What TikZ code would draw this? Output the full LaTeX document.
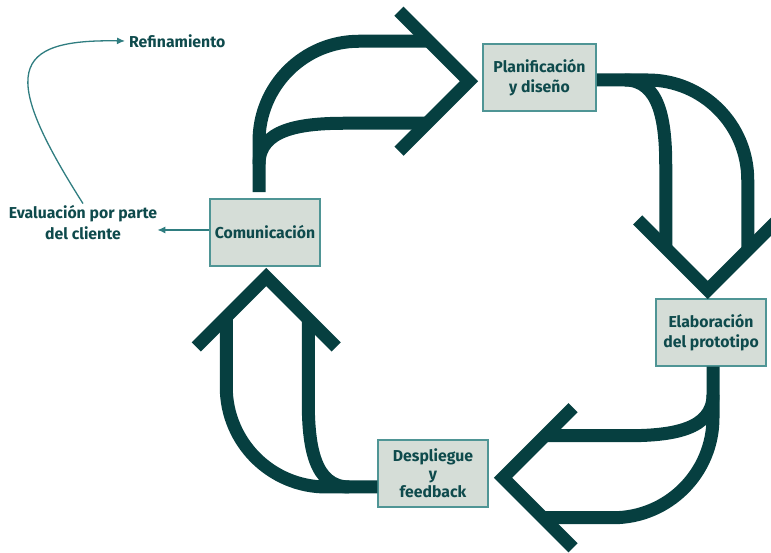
\documentclass[tikz,border=0pt]{standalone}
\usepackage{fontspec}
\setmainfont{Fira Sans}
\usetikzlibrary{arrows.meta}

\definecolor{arrowdark}{HTML}{063F40}
\definecolor{boxfill}{HTML}{D5DDD7}
\definecolor{boxline}{HTML}{4F9595}
\definecolor{labeltext}{HTML}{0E4A4C}
\definecolor{thinline}{HTML}{2F7D80}

\tikzset{
  stage/.style={draw=boxline, line width=1.5pt, fill=boxfill, text=labeltext,
    minimum width=110pt, minimum height=67pt, align=center, inner sep=2pt,
    font=\fontsize{15.8}{20.5}\selectfont\bfseries},
  freelabel/.style={text=labeltext, align=center, inner sep=0pt,
    font=\fontsize{15.8}{21}\selectfont\bfseries},
  bigstroke/.style={draw=arrowdark, line width=13pt, line cap=butt},
  thinarrow/.style={draw=thinline, line width=1.3pt,
    -{Latex[length=8pt,width=7pt]}},
  % broad double-shafted arrow with an open chevron head,
  % drawn with its base at the origin and its head up and to the right
  cyclearrow/.pic={
    \draw[bigstroke] (0,0) -- (0,51)
      arc[start angle=180, end angle=90, radius=100pt] -- (172,151);
    \draw[bigstroke] (0,28) .. controls (0,63) and (41,69) .. (86,69) -- (170,69);
    \draw[bigstroke, line join=miter] (140,181) -- (210,111) -- (140,41);
  }
}

\begin{document}
\begin{tikzpicture}[x=1pt, y=1pt]
  \useasboundingbox (0,0) rectangle (771,553);

  % process stages
  \node[stage] (com)  at (265,320.5) {Comunicación};
  \node[stage, minimum width=113pt] (plan) at (539.5,475.5) {Planificación\\y diseño};
  \node[stage] (elab) at (711,220.5) {Elaboración\\del prototipo};
  \node[stage, font=\fontsize{15.8}{18}\selectfont\bfseries] (desp) at (433,79.5)
    {Despliegue\\y\\feedback};

  % cycle arrows between the stages
  \pic at ([xshift=-6pt, yshift=6pt]com.north) {cyclearrow};
  \pic[rotate=-90] at ([yshift=-2.5pt]plan.east) {cyclearrow};
  \pic[rotate=180] at ([xshift=2pt]elab.south) {cyclearrow};
  \pic[rotate=90] at ([yshift=-13.5pt]desp.west) {cyclearrow};

  % client evaluation loop
  \node[freelabel] (eval) at (83,330) {Evaluación por parte\\del cliente};
  \node[freelabel, inner sep=4pt, anchor=west] (refin) at (125,512) {Refinamiento};

  \draw[thinarrow] ([yshift=2.5pt]com.west) -- ([yshift=2.5pt]com.west -| eval.east);
  \draw[thinarrow] ([yshift=2pt]eval.north)
    .. controls (0,480) and (10,514) .. (refin.west);
\end{tikzpicture}
\end{document}
